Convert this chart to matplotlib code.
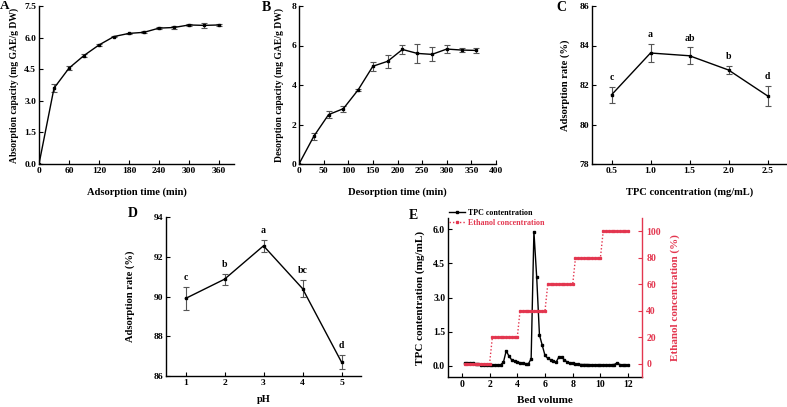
import matplotlib
matplotlib.use("Agg")
import matplotlib.pyplot as plt
import numpy as np

plt.rcParams['font.family'] = ['Liberation Serif', 'DejaVu Serif']
plt.rcParams['font.weight'] = 'bold'
plt.rcParams['axes.labelweight'] = 'bold'

# Panel A
a_time = [0, 30, 60, 90, 120, 150, 180, 210, 240, 270, 300, 330, 360]
a_cap = [0, 3.6, 4.55, 5.15, 5.65, 6.05, 6.2, 6.25, 6.45, 6.48, 6.6, 6.58, 6.6]
a_err = [0, 0.2, 0.08, 0.05, 0.06, 0.04, 0.04, 0.05, 0.05, 0.06, 0.06, 0.12, 0.05]

# Panel B
b_time = [0, 30, 60, 90, 120, 150, 180, 210, 240, 270, 300, 330, 360]
b_cap = [0, 1.4, 2.5, 2.8, 3.75, 4.95, 5.2, 5.8, 5.6, 5.55, 5.82, 5.77, 5.75]
b_err = [0, 0.18, 0.16, 0.16, 0.05, 0.22, 0.32, 0.25, 0.48, 0.35, 0.2, 0.1, 0.12]

# Panel C
c_conc = [0.5, 1.0, 1.5, 2.0, 2.5]
c_rate = [81.5, 83.62, 83.48, 82.76, 81.45]
c_err = [0.42, 0.48, 0.42, 0.2, 0.52]
c_letters = ['c', 'a', 'ab', 'b', 'd']

# Panel D
d_ph = [1, 2, 3, 4, 5]
d_rate = [89.9, 90.87, 92.55, 90.4, 86.7]
d_err = [0.58, 0.28, 0.3, 0.45, 0.35]
d_letters = ['c', 'b', 'a', 'bc', 'd']

# Panel E
e_bv = [0.2, 0.4, 0.6, 0.8, 1.0, 1.2, 1.4, 1.6, 1.8, 2.0,
        2.2, 2.4, 2.6, 2.8, 3.0, 3.2, 3.4, 3.6, 3.8, 4.0,
        4.2, 4.4, 4.6, 4.8, 5.0, 5.2, 5.4, 5.6, 5.8, 6.0,
        6.2, 6.4, 6.6, 6.8, 7.0, 7.2, 7.4, 7.6, 7.8, 8.0,
        8.2, 8.4, 8.6, 8.8, 9.0, 9.2, 9.4, 9.6, 9.8, 10.0,
        10.2, 10.4, 10.6, 10.8, 11.0, 11.2, 11.4, 11.6, 11.8, 12.0]
e_tpc = [0.1, 0.1, 0.1, 0.1, 0.09, 0.06, 0.05, 0.05, 0.04, 0.04,
         0.04, 0.04, 0.04, 0.04, 0.15, 0.65, 0.42, 0.25, 0.2, 0.16,
         0.13, 0.1, 0.09, 0.08, 0.3, 5.9, 3.9, 1.35, 0.9, 0.45,
         0.32, 0.26, 0.2, 0.15, 0.38, 0.38, 0.25, 0.16, 0.12, 0.1,
         0.08, 0.06, 0.05, 0.05, 0.05, 0.04, 0.04, 0.04, 0.03, 0.03,
         0.03, 0.03, 0.03, 0.04, 0.05, 0.12, 0.05, 0.03, 0.02, 0.02]
e_eth = [0, 0, 0, 0, 0, 0, 0, 0, 0, 0,
         20, 20, 20, 20, 20, 20, 20, 20, 20, 20,
         40, 40, 40, 40, 40, 40, 40, 40, 40, 40,
         60, 60, 60, 60, 60, 60, 60, 60, 60, 60,
         80, 80, 80, 80, 80, 80, 80, 80, 80, 80,
         100, 100, 100, 100, 100, 100, 100, 100, 100, 100]

RED = '#E3364F'
W, H = 787, 407
TICK = 6.8
LAB = 7.6

fig = plt.figure(figsize=(W / 100, H / 100), dpi=100)


def box(l, r, t, b):
    return [l / W, (H - b) / H, (r - l) / W, (b - t) / H]


def style(ax, ylx):
    ax.spines['top'].set_visible(False)
    ax.spines['right'].set_visible(False)
    for s in ['left', 'bottom']:
        ax.spines[s].set_linewidth(1.0)
    ax.tick_params(direction='in', length=3, width=0.8, labelsize=TICK, pad=2)
    for lab in ax.get_xticklabels() + ax.get_yticklabels():
        lab.set_fontweight('bold')
    ax.yaxis.set_label_coords(ylx, 0.5)


def plot_err(ax, x, y, e):
    ax.errorbar(x, y, yerr=e, fmt='-', color='black', lw=1.0, marker='s', ms=2.0,
                ecolor='#555555', elinewidth=0.8, capsize=2.5, capthick=0.8)


# A
axA = fig.add_axes(box(39, 234, 6, 164))
plot_err(axA, a_time, a_cap, a_err)
axA.set_xlim(0, 390)
axA.set_ylim(0, 7.5)
axA.set_xticks([0, 60, 120, 180, 240, 300, 360])
axA.set_yticks([0, 1.5, 3.0, 4.5, 6.0, 7.5])
axA.set_yticklabels(['0.0', '1.5', '3.0', '4.5', '6.0', '7.5'])
axA.set_xlabel('Adsorption time (min)', fontsize=LAB, labelpad=9)
axA.set_ylabel('Absorption capacity (mg GAE/g DW)', fontsize=6.9)
style(axA, -0.105)

# B
axB = fig.add_axes(box(299, 496, 6, 164))
plot_err(axB, b_time, b_cap, b_err)
axB.set_xlim(0, 400)
axB.set_ylim(0, 8)
axB.set_xticks([0, 50, 100, 150, 200, 250, 300, 350, 400])
axB.set_yticks([0, 2, 4, 6, 8])
axB.set_xlabel('Desorption time (min)', fontsize=LAB, labelpad=9)
axB.set_ylabel('Desorption capacity (mg GAE/g DW)', fontsize=6.9)
style(axB, -0.075)

# C
axC = fig.add_axes(box(592, 787, 6, 164))
plot_err(axC, c_conc, c_rate, c_err)
axC.set_xlim(0.25, 2.75)
axC.set_ylim(78, 86)
axC.set_xticks([0.5, 1.0, 1.5, 2.0, 2.5])
axC.set_yticks([78, 80, 82, 84, 86])
for x, y, e, t in zip(c_conc, c_rate, c_err, c_letters):
    axC.text(x, y + e + 0.25, t, ha='center', va='bottom', fontsize=7, fontweight='bold')
axC.set_xlabel('TPC concentration (mg/mL)', fontsize=LAB, labelpad=9)
axC.set_ylabel('Adsorption rate (%)', fontsize=LAB)
style(axC, -0.115)

# D
axD = fig.add_axes(box(166, 361, 217, 376))
plot_err(axD, d_ph, d_rate, d_err)
axD.set_xlim(0.5, 5.5)
axD.set_ylim(86, 94)
axD.set_xticks([1, 2, 3, 4, 5])
axD.set_yticks([86, 88, 90, 92, 94])
for x, y, e, t in zip(d_ph, d_rate, d_err, d_letters):
    axD.text(x, y + e + 0.25, t, ha='center', va='bottom', fontsize=7, fontweight='bold')
axD.set_xlabel('pH', fontsize=LAB, labelpad=6)
axD.set_ylabel('Adsorption rate (%)', fontsize=LAB)
style(axD, -0.16)

# E
axE = fig.add_axes(box(448, 642, 218, 377))
l1, = axE.plot(e_bv, e_tpc, '-', color='black', lw=1.0, marker='s', ms=1.6,
               label='TPC contentration')
axE.set_xlim(-1, 13)
axE.set_ylim(-0.5, 6.5)
axE.set_xticks([0, 2, 4, 6, 8, 10, 12])
axE.set_yticks([0, 1.5, 3.0, 4.5, 6.0])
axE.set_yticklabels(['0.0', '1.5', '3.0', '4.5', '6.0'])
axE.set_xlabel('Bed volume', fontsize=8, labelpad=5)
axE.set_ylabel('TPC contentration (mg/mL)', fontsize=8)
style(axE, -0.12)
axE.tick_params(labelsize=7)
axE2 = axE.twinx()
l2, = axE2.plot(e_bv, e_eth, linestyle=(0, (1, 1.5)), color=RED, lw=1.0,
                marker='s', ms=1.4, label='Ethanol concentration')
axE2.set_ylim(-10, 110)
axE2.set_yticks([0, 20, 40, 60, 80, 100])
axE2.spines['top'].set_visible(False)
axE2.spines['left'].set_visible(False)
axE2.spines['bottom'].set_visible(False)
axE2.spines['right'].set_color(RED)
axE2.spines['right'].set_linewidth(1.0)
axE2.tick_params(axis='y', direction='in', length=3, width=0.8, colors=RED,
                 labelsize=7, pad=3)
for lab in axE2.get_yticklabels():
    lab.set_fontweight('bold')
axE2.set_ylabel('Ethanol concentration (%)', fontsize=8, color=RED)
axE2.yaxis.set_label_coords(1.145, 0.5)
leg = axE.legend(handles=[l1, l2], loc='upper left', bbox_to_anchor=(0.0, 1.06),
                 frameon=False, handlelength=2.0, borderpad=0.1,
                 labelspacing=0.25, handletextpad=0.4, borderaxespad=0.0,
                 prop={'weight': 'bold', 'size': 5.8})
leg.get_texts()[1].set_color(RED)

# Panel labels
for x, y, t, fs in [(0, 0, 'A', 9.5), (262, 1, 'B', 10), (556, 1, 'C', 10),
                    (128, 207, 'D', 10), (409, 209, 'E', 10)]:
    fig.text(x / W, 1 - y / H, t, ha='left', va='top', fontsize=fs, fontweight='bold')

fig.savefig('out.png', dpi=100)
